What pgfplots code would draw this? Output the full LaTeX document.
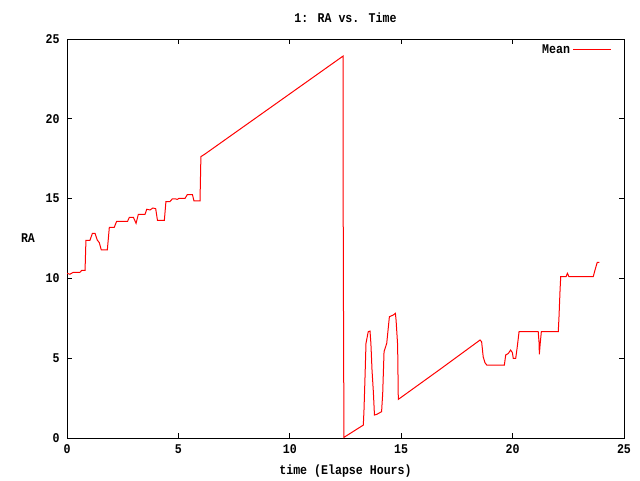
\documentclass[border=0pt]{standalone}
\usepackage{fontspec}
\setmainfont{Liberation Mono}[FakeStretch=0.87]
\usepackage{pgfplots}
\pgfplotsset{compat=1.18}
\begin{document}
\begin{tikzpicture}
\useasboundingbox (0,0) rectangle (480pt,360pt);
\begin{axis}[
    at={(50.25pt,31.5pt)}, anchor=south west,
    scale only axis,
    width=417.75pt, height=299.25pt,
    xmin=0, xmax=25, ymin=0, ymax=25,
    xtick={0,5,...,25}, ytick={0,5,...,25},
    tick align=inside,
    major tick length=3.75pt,
    axis line style={line width=0.75pt},
    every tick/.style={black, line width=0.75pt},
    font=\bfseries\fontsize{10}{12}\selectfont,
    /pgf/number format/assume math mode=true,
    xticklabel style={yshift=-1.5pt},
    yticklabel style={xshift=-2pt},
    title={1: RA vs. Time},
    title style={at={(0.5,1)}, anchor=center, yshift=9.75pt},
    xlabel={time (Elapse Hours)},
    xlabel style={at={(0.5,0)}, anchor=center, yshift=-25pt},
    ylabel={RA},
    ylabel style={at={(0,0.5)}, anchor=center, rotate=-90, xshift=-29.25pt},
    legend plot pos=right,
    legend style={at={(1,1)}, anchor=north east, draw=none, fill=none,
        xshift=-9pt, yshift=-2pt, inner sep=0pt,
        cells={anchor=east}},
    legend image code/.code={\draw[#1] (0pt,0pt) -- (28.5pt,0pt);},
]
\addplot[red, line width=0.75pt] coordinates {
(0,10.32)(0.13,10.26)(0.28,10.38)(0.58,10.38)(0.66,10.5)(0.81,10.5)
(0.85,12.39)(1.03,12.39)(1.14,12.82)(1.26,12.82)(1.36,12.4)(1.45,12.24)
(1.54,11.78)(1.81,11.78)(1.90,13.2)(2.12,13.2)(2.23,13.58)(2.72,13.58)
(2.80,13.83)(2.98,13.83)(3.10,13.45)(3.20,14.01)(3.50,14.01)(3.58,14.33)
(3.73,14.29)(3.85,14.41)(3.98,14.37)(4.06,13.64)(4.37,13.64)(4.44,14.81)
(4.62,14.81)(4.73,14.99)(4.85,14.99)(4.95,14.95)(5.03,15.02)(5.30,15.02)
(5.40,15.25)(5.63,15.25)(5.70,14.85)(5.97,14.85)(6.01,17.63)(6.19,17.79)
(12.39,23.93)(12.40,12.03)(12.43,0.04)(13.30,0.81)(13.33,1.75)(13.37,3.53)
(13.42,5.93)(13.52,6.66)(13.60,6.70)(13.64,5.93)(13.69,4.26)(13.75,2.9)
(13.80,1.44)(13.90,1.48)(14.12,1.65)(14.17,2.8)(14.23,5.41)(14.35,5.93)
(14.47,7.6)(14.65,7.71)(14.74,7.81)(14.77,7.39)(14.84,5.83)(14.87,2.42)
(16.74,4.30)(18.54,6.14)(18.61,6.03)(18.68,5.09)(18.76,4.72)(18.84,4.57)
(19.63,4.57)(19.69,5.2)(19.81,5.3)(19.91,5.51)(19.99,5.35)(20.03,4.99)
(20.14,4.99)(20.21,5.72)(20.29,6.66)(21.15,6.66)(21.19,5.93)(21.20,5.24)
(21.24,5.93)(21.29,6.66)(22.05,6.66)(22.08,7.5)(22.13,9.27)(22.16,10.11)
(22.40,10.11)(22.46,10.32)(22.53,10.11)(23.62,10.11)(23.70,10.53)
(23.80,11.01)(23.89,11.01)
};
\addlegendentry{Mean}
\end{axis}
\end{tikzpicture}
\end{document}
